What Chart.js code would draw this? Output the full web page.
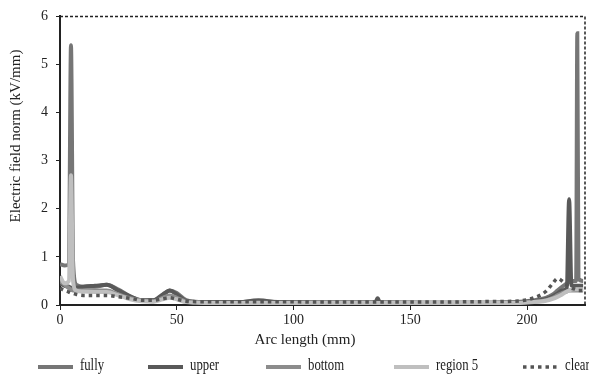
<!DOCTYPE html>
<html>
<head>
<meta charset="utf-8">
<script src="https://cdn.jsdelivr.net/npm/chart.js@4"></script>
<style>
  html, body { margin: 0; padding: 0; background: #fff; overflow: hidden; }
  #wrap { width: 589px; height: 378px; }
</style>
</head>
<body>
<div id="wrap"><canvas id="chart" width="589" height="378"></canvas></div>
<script>
// arc length samples (mm), shared by every series
const arcLength = [0, 2, 3.8, 4.7, 5.6, 7, 10, 15, 20, 25,
    30, 35, 40, 44, 47, 50, 54, 58, 65, 75,
    85, 95, 110, 130, 135, 136, 137, 140, 160, 180,
    195, 203, 208, 211, 213, 215, 217, 218, 219, 221,
    221.5, 222, 224];

const fully = [0.85, 0.82, 0.85, 5.4, 0.9, 0.42, 0.38, 0.38, 0.42, 0.32,
    0.18, 0.1, 0.1, 0.2, 0.3, 0.25, 0.1, 0.07, 0.06, 0.06,
    0.08, 0.06, 0.05, 0.05, 0.05, 0.05, 0.05, 0.05, 0.05, 0.05,
    0.06, 0.1, 0.15, 0.22, 0.3, 0.38, 0.45, 0.48, 0.5, 0.5,
    5.65, 0.55, 0.5];

const upper = [0.45, 0.4, 0.38, 0.36, 0.36, 0.36, 0.38, 0.4, 0.42, 0.3,
    0.18, 0.1, 0.1, 0.22, 0.3, 0.22, 0.08, 0.06, 0.05, 0.05,
    0.1, 0.05, 0.05, 0.05, 0.05, 0.14, 0.05, 0.05, 0.04, 0.04,
    0.05, 0.08, 0.12, 0.18, 0.24, 0.3, 0.35, 2.2, 0.4, 0.4,
    0.4, 0.4, 0.4];

const bottom = [0.5, 0.42, 0.35, 0.32, 0.3, 0.3, 0.3, 0.3, 0.3, 0.22,
    0.14, 0.1, 0.08, 0.15, 0.2, 0.15, 0.07, 0.05, 0.04, 0.04,
    0.05, 0.04, 0.04, 0.04, 0.04, 0.04, 0.04, 0.04, 0.04, 0.04,
    0.05, 0.07, 0.1, 0.15, 0.2, 0.25, 0.28, 0.3, 0.3, 0.3,
    0.3, 0.3, 0.3];

const region5 = [0.6, 0.45, 0.5, 2.7, 0.5, 0.3, 0.28, 0.27, 0.27, 0.2,
    0.12, 0.08, 0.07, 0.12, 0.15, 0.12, 0.06, 0.05, 0.04, 0.04,
    0.04, 0.04, 0.04, 0.04, 0.04, 0.04, 0.04, 0.04, 0.04, 0.04,
    0.04, 0.06, 0.09, 0.13, 0.17, 0.22, 0.28, 0.3, 0.32, 0.33,
    0.33, 0.33, 0.33];

const clear = [0.35, 0.3, 0.27, 0.25, 0.24, 0.22, 0.2, 0.2, 0.2, 0.17,
    0.14, 0.1, 0.1, 0.13, 0.15, 0.12, 0.08, 0.07, 0.07, 0.07,
    0.07, 0.07, 0.06, 0.06, 0.06, 0.06, 0.06, 0.06, 0.06, 0.07,
    0.08, 0.15, 0.28, 0.45, 0.55, 0.5, 0.42, 0.38, 0.35, 0.32,
    0.3, 0.3, 0.3];

const seriesNames = ["fully", "upper", "bottom", "region 5", "clear"];
const seriesValues = [fully, upper, bottom, region5, clear];
const seriesColors = ["#767676", "#595959", "#8c8c8c", "#bfbfbf", "#555555"];

const xTickValues = [0, 50, 100, 150, 200];
const xTitle = "Arc length (mm)";
const yTitle = "Electric field norm (kV/mm)";

const FONT = "'Liberation Serif', 'DejaVu Serif', serif";
const INK = "#222";

function toPoints(values) {
    return values.map((v, i) => ({ x: arcLength[i], y: v }));
}

const datasets = seriesNames.map((name, i) => ({
    label: name,
    data: toPoints(seriesValues[i]),
    borderColor: seriesColors[i],
    backgroundColor: seriesColors[i],
    borderWidth: i === 4 ? 3.5 : 4,
    borderDash: i === 4 ? [3.5, 4] : [],
    borderCapStyle: "butt",
    pointRadius: 0,
    cubicInterpolationMode: "monotone",
    order: 5 - i
}));

// top/right dashed frame
const framePlugin = {
    id: "frame",
    afterDatasetsDraw(chart) {
        const { ctx, chartArea: a } = chart;
        ctx.save();
        ctx.strokeStyle = INK;
        ctx.lineWidth = 1.5;
        ctx.setLineDash([3, 2]);
        ctx.beginPath();
        ctx.moveTo(a.left, a.top);
        ctx.lineTo(a.right, a.top);
        ctx.lineTo(a.right, a.bottom);
        ctx.stroke();
        ctx.restore();
    }
};

// axis titles sit a little off-centre in the source, so draw them by hand
const titlePlugin = {
    id: "axisTitles",
    afterDraw(chart) {
        const ctx = chart.ctx;
        ctx.save();
        ctx.fillStyle = INK;
        ctx.font = "15px " + FONT;
        ctx.textAlign = "center";
        ctx.textBaseline = "middle";
        ctx.fillText(xTitle, 305, 340);
        ctx.translate(16, 136);
        ctx.rotate(-Math.PI / 2);
        ctx.fillText(yTitle, 0, 0);
        ctx.restore();
    }
};

// legend across the bottom, last entry runs off the edge like the source
const legendPlugin = {
    id: "bottomLegend",
    afterDraw(chart) {
        const ctx = chart.ctx;
        const y = 367;
        const starts = [38, 148, 266, 394, 523];
        ctx.save();
        ctx.textBaseline = "middle";
        chart.data.datasets.forEach((ds, i) => {
            const x = starts[i];
            ctx.strokeStyle = ds.borderColor;
            ctx.lineWidth = ds.borderWidth;
            ctx.setLineDash(ds.borderDash);
            ctx.beginPath();
            ctx.moveTo(x, y);
            ctx.lineTo(x + 35, y);
            ctx.stroke();
            ctx.setLineDash([]);
            // the source lettering is narrow, squeeze it sideways
            ctx.save();
            ctx.translate(x + 42, y - 1);
            ctx.scale(0.75, 1);
            ctx.font = "17px " + FONT;
            ctx.fillStyle = INK;
            ctx.fillText(ds.label, 0, 0);
            ctx.restore();
        });
        ctx.restore();
    }
};

new Chart(document.getElementById("chart"), {
    type: "line",
    data: { datasets: datasets },
    options: {
        responsive: false,
        animation: false,
        layout: { padding: { top: 14, right: 4, bottom: 0, left: 0 } },
        plugins: { legend: { display: false }, tooltip: { enabled: false } },
        scales: {
            x: {
                type: "linear",
                min: 0,
                max: 224.8,
                afterFit: (s) => { s.height = 73; },
                afterBuildTicks: (s) => { s.ticks = xTickValues.map((v) => ({ value: v })); },
                ticks: { color: INK, font: { family: FONT, size: 14 }, padding: 2, maxRotation: 0 },
                grid: { display: true, drawOnChartArea: false, drawTicks: true, tickLength: 5, color: INK },
                border: { display: true, color: INK, width: 2 },
                title: { display: false }
            },
            y: {
                min: 0,
                max: 6,
                afterFit: (s) => { s.width = 60; },
                ticks: { stepSize: 1, color: INK, font: { family: FONT, size: 14 }, padding: 8 },
                grid: { display: true, drawOnChartArea: false, drawTicks: true, tickLength: 4, color: INK },
                border: { display: true, color: INK, width: 2 },
                title: { display: false }
            }
        }
    },
    plugins: [framePlugin, titlePlugin, legendPlugin]
});
</script>
</body>
</html>
